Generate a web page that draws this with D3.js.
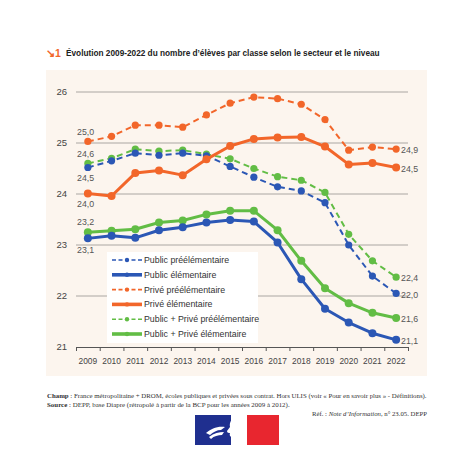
<!DOCTYPE html>
<html><head><meta charset="utf-8">
<script src="https://cdn.jsdelivr.net/npm/d3@7"></script>
<style>
html,body{margin:0;padding:0;background:#fff;}
svg{display:block;}
.cond{font-family:"Liberation Sans Narrow","Liberation Sans",Arial,sans-serif;}
.serif{font-family:"Liberation Serif","DejaVu Serif",serif;}
</style>
</head><body>
<svg id="c" width="474" height="474"></svg>
<script>
const years = [2009,2010,2011,2012,2013,2014,2015,2016,2017,2018,2019,2020,2021,2022];
const pubPre  = [24.52,24.65,24.80,24.76,24.80,24.75,24.54,24.33,24.14,24.06,23.83,23.00,22.39,22.05];
const pubElem = [23.13,23.18,23.14,23.29,23.35,23.44,23.49,23.46,23.05,22.33,21.75,21.48,21.27,21.14];
const privPre = [25.03,25.13,25.35,25.35,25.31,25.55,25.78,25.90,25.87,25.76,25.46,24.86,24.92,24.88];
const privElem= [24.01,23.96,24.41,24.46,24.37,24.68,24.94,25.08,25.11,25.12,24.93,24.58,24.61,24.52];
const allPre  = [24.60,24.70,24.88,24.84,24.86,24.78,24.69,24.50,24.34,24.27,24.03,23.21,22.69,22.37];
const allElem = [23.25,23.28,23.31,23.44,23.48,23.60,23.67,23.67,23.29,22.69,22.15,21.86,21.67,21.57];
const seriesNames = ["Public préélémentaire","Public élémentaire","Privé préélémentaire","Privé élémentaire","Public + Privé préélémentaire","Public + Privé élémentaire"];
const startLabels = ["24,5","23,1","25,0","24,0","24,6","23,2"];
const endLabels   = ["22,0","21,1","24,9","24,5","22,4","21,6"];
const yTicks = [21,22,23,24,25,26];

const BLUE="#2b57b5", ORANGE="#f2662a", GREEN="#62bd45";
const series = [
  {name:seriesNames[0], vals:pubPre,  color:BLUE,   dashed:true,  sOff:10},
  {name:seriesNames[1], vals:pubElem, color:BLUE,   dashed:false, sOff:12},
  {name:seriesNames[2], vals:privPre, color:ORANGE, dashed:true,  sOff:-10},
  {name:seriesNames[3], vals:privElem,color:ORANGE, dashed:false, sOff:10},
  {name:seriesNames[4], vals:allPre,  color:GREEN,  dashed:true,  sOff:-9},
  {name:seriesNames[5], vals:allElem, color:GREEN,  dashed:false, sOff:-10}
];
series.forEach((s,i)=>{s.start=startLabels[i]; s.end=endLabels[i];});

function fit(sel, target){
  const len = sel.node().getComputedTextLength();
  const fs = parseFloat(sel.attr("font-size"));
  if (len > 0) sel.attr("font-size", (fs*target/len).toFixed(2));
  return sel;
}

const svg = d3.select("#c");
svg.append("rect").attr("x",46).attr("y",70).attr("width",381).attr("height",306).attr("fill","#fcf5ee");

const x = d3.scaleBand().domain(years).range([76,408]);
const xc = d => x(d) + x.bandwidth()/2;
const xb = d3.scaleLinear().domain([0,years.length]).range([76,408]);
const y = d3.scaleLinear().domain([21,26]).range([347,92]);

// grid
svg.append("g").selectAll("line").data(yTicks.filter(t=>t>21)).join("line")
  .attr("x1",76).attr("x2",408).attr("y1",d=>y(d)).attr("y2",d=>y(d))
  .attr("stroke","#aaa6a2").attr("stroke-width",1);

// y labels
svg.append("g").selectAll("text").data(yTicks).join("text").attr("class","cond")
  .attr("x",67).attr("y",d=>y(d)).attr("dy","0.35em").attr("text-anchor","end")
  .attr("font-size",9.5).attr("fill","#444").text(d=>d);

// x axis boundary ticks
const gAx = svg.append("g").attr("transform","translate(0,347)");
gAx.call(d3.axisBottom(xb).tickValues(d3.range(years.length+1)).tickSize(4).tickSizeOuter(0).tickFormat(""));
gAx.select(".domain").attr("stroke","#555");
gAx.selectAll(".tick line").attr("stroke","#555");
// x labels
const gAx2 = svg.append("g").attr("transform","translate(0,347)");
gAx2.call(d3.axisBottom(x).tickSize(0).tickPadding(11));
gAx2.select(".domain").remove();
gAx2.selectAll("text").attr("class","cond").attr("font-size",8.4).attr("fill","#444").attr("font-family",null);

// legend box
const lg = svg.append("g");
lg.append("rect").attr("x",107).attr("y",252).attr("width",151).attr("height",91).attr("fill","#fff");

const line = d3.line().x((d,i)=>xc(years[i])).y(d=>y(d));
const order = [4,0,2,5,1,3];
order.forEach(k=>{
  const s = series[k];
  const g = svg.append("g");
  g.append("path").attr("d",line(s.vals)).attr("fill","none").attr("stroke",s.color)
    .attr("stroke-width",s.dashed?2:3).attr("stroke-dasharray",s.dashed?"6,4":null)
    .attr("stroke-linejoin","round");
  g.selectAll("circle").data(s.vals).join("circle")
    .attr("cx",(d,i)=>xc(years[i])).attr("cy",d=>y(d)).attr("r",s.dashed?3.6:4).attr("fill",s.color);
});

// value labels
series.forEach(s=>{
  svg.append("text").attr("class","cond").attr("x",77).attr("y",y(s.vals[0])+s.sOff)
    .attr("dy","0.35em").attr("font-size",8.8).attr("fill","#555").text(s.start);
  svg.append("text").attr("class","cond").attr("x",401).attr("y",y(s.vals[s.vals.length-1])+1)
    .attr("dy","0.35em").attr("font-size",8.8).attr("fill","#555").text(s.end);
});

// legend entries
series.forEach((s,i)=>{
  const yy = 260 + i*14.8;
  lg.append("line").attr("x1",112).attr("x2",142).attr("y1",yy).attr("y2",yy)
    .attr("stroke",s.color).attr("stroke-width",s.dashed?1.6:3.6).attr("stroke-dasharray",s.dashed?"4,2.5":null);
  lg.append("circle").attr("cx",127).attr("cy",yy).attr("r",2.2).attr("fill",s.color);
  lg.append("text").attr("class","cond").attr("x",144).attr("y",yy).attr("dy","0.35em")
    .attr("font-size",8.8).attr("fill","#333").text(s.name);
});
lg.raise();

// title
svg.append("text").attr("class","cond").attr("x",46).attr("y",53).attr("dy","0.35em")
  .attr("font-size",10.5).attr("font-weight","bold").attr("fill","#f2662a").text("↘1");
fit(svg.append("text").attr("class","cond").attr("x",66).attr("y",53).attr("dy","0.35em")
  .attr("font-size",11).attr("font-weight","bold").attr("fill","#222")
  .text("Évolution 2009-2022 du nombre d’élèves par classe selon le secteur et le niveau"), 314);

// footer
const f1 = svg.append("text").attr("class","serif").attr("x",47).attr("y",396).attr("dy","0.35em")
  .attr("font-size",8).attr("fill","#333");
f1.append("tspan").attr("font-weight","bold").text("Champ");
f1.append("tspan").text(" : France métropolitaine + DROM, écoles publiques et privées sous contrat. Hors ULIS (voir « Pour en savoir plus » - Définitions).");
fit(f1, 380);
const f2 = svg.append("text").attr("class","serif").attr("x",47).attr("y",405).attr("dy","0.35em")
  .attr("font-size",8).attr("fill","#333");
f2.append("tspan").attr("font-weight","bold").text("Source");
f2.append("tspan").text(" : DEPP, base Diapre (rétropolé à partir de la BCP pour les années 2009 à 2012).");
fit(f2, 243);
const f3 = svg.append("text").attr("class","serif").attr("x",427).attr("y",414).attr("dy","0.35em")
  .attr("text-anchor","end").attr("font-size",8).attr("fill","#333");
f3.append("tspan").text("Réf. : ");
f3.append("tspan").attr("font-style","italic").text("Note d’Information");
f3.append("tspan").text(", n° 23.05. DEPP");
fit(f3, 115);

// Marianne logo
const m = svg.append("g");
m.append("rect").attr("x",195).attr("y",415).attr("width",36).attr("height",30).attr("fill","#1f2f8f");
m.append("rect").attr("x",247).attr("y",415).attr("width",32).attr("height",30).attr("fill","#e8262f");
m.append("path").attr("fill","#fff")
  .attr("d","M238,415 C232,418 229,422 230,427 L227,431 C227,433 229,433 230,433 C229,436 231,437 232,437 C232,441 234,445 238,445 L231,445 L231,415 Z");
m.append("path").attr("fill","#fff")
  .attr("d","M206,433 C211,429 217,426 225,427 L221,430 C217,430 213,432 210,435 Z M209,437 C214,433 219,432 224,432 L222,435 C218,435 214,436 211,439 Z");
</script>
</body></html>
